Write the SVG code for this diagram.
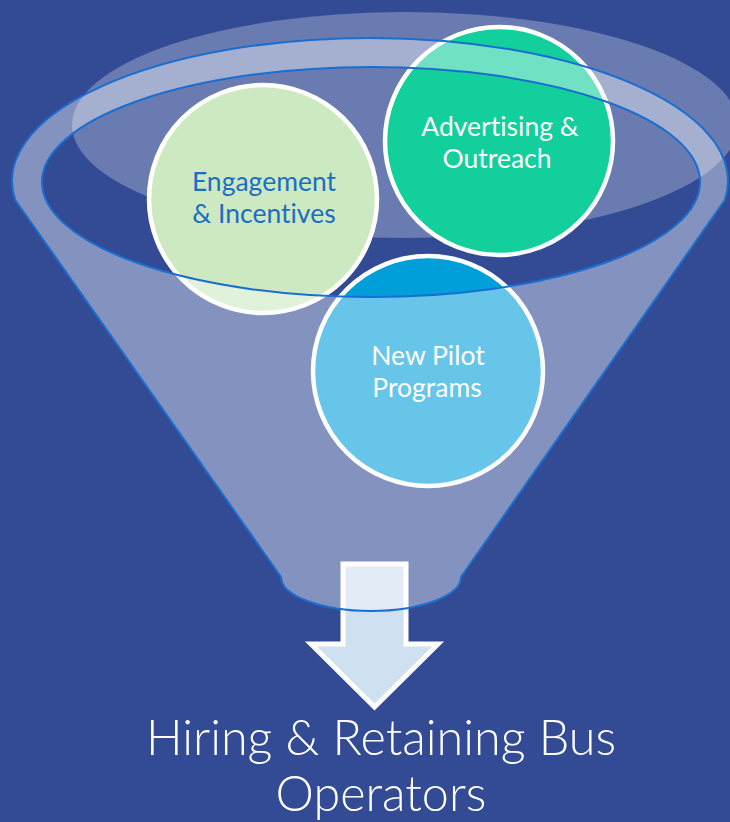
<svg xmlns="http://www.w3.org/2000/svg" width="730" height="822" viewBox="0 0 730 822">
  <style>
    .circle { stroke: #ffffff; stroke-width: 4.5; }
    .lbl { font-family: Lato, "Open Sans", "Liberation Sans", sans-serif; font-size: 26.5px; text-anchor: middle; font-variant-ligatures: none; }
    .title { font-family: Lato, "Open Sans", "Liberation Sans", sans-serif; font-weight: 300; font-size: 48.5px; fill: #ffffff; text-anchor: middle; font-variant-ligatures: none; }
  </style>
  <rect x="0" y="0" width="730" height="822" fill="#334a94"/>

  <g id="opening-highlight">
    <ellipse cx="405" cy="125" rx="333" ry="113" fill="#ffffff" fill-opacity="0.27"/>
  </g>

  <g id="engagement">
    <circle class="circle" cx="263" cy="199" r="114" fill="#cde9c2"/>
    <text class="lbl" fill="#1b6ec2"><tspan x="264" y="191">Engagement</tspan><tspan x="264" y="223">&amp; Incentives</tspan></text>
  </g>

  <g id="advertising">
    <circle class="circle" cx="499" cy="141" r="114" fill="#12cf9b"/>
    <text class="lbl" fill="#ffffff"><tspan x="500" y="136">Advertising &amp;</tspan><tspan x="497" y="168">Outreach</tspan></text>
  </g>

  <g id="pilot">
    <circle class="circle" cx="428" cy="371" r="115" fill="#009fda"/>
    <text class="lbl" fill="#ffffff"><tspan x="428" y="365">New Pilot</tspan><tspan x="427" y="397">Programs</tspan></text>
  </g>

  <g id="connectors">
    <path id="arrow" d="M343 564 L406 564 L406 644 L438 644 L374.5 707 L311 644 L343 644 Z" fill="#cfe0f0" stroke="#ffffff" stroke-width="5"/>
  </g>

  <g id="funnel">
    <path d="M15.2 200 A358 143 0 1 1 724.8 200 L461 577 A90 34 0 0 1 281 577 Z M42 182 A329 115 0 1 0 700 182 A329 115 0 1 0 42 182 Z"
          fill="#ffffff" fill-opacity="0.4" fill-rule="evenodd" stroke="#1a6ecf" stroke-width="2"/>
  </g>

  <g id="result">
    <text class="title"><tspan x="381" y="755">Hiring &amp; Retaining Bus</tspan><tspan x="381" y="811">Operators</tspan></text>
  </g>
</svg>
